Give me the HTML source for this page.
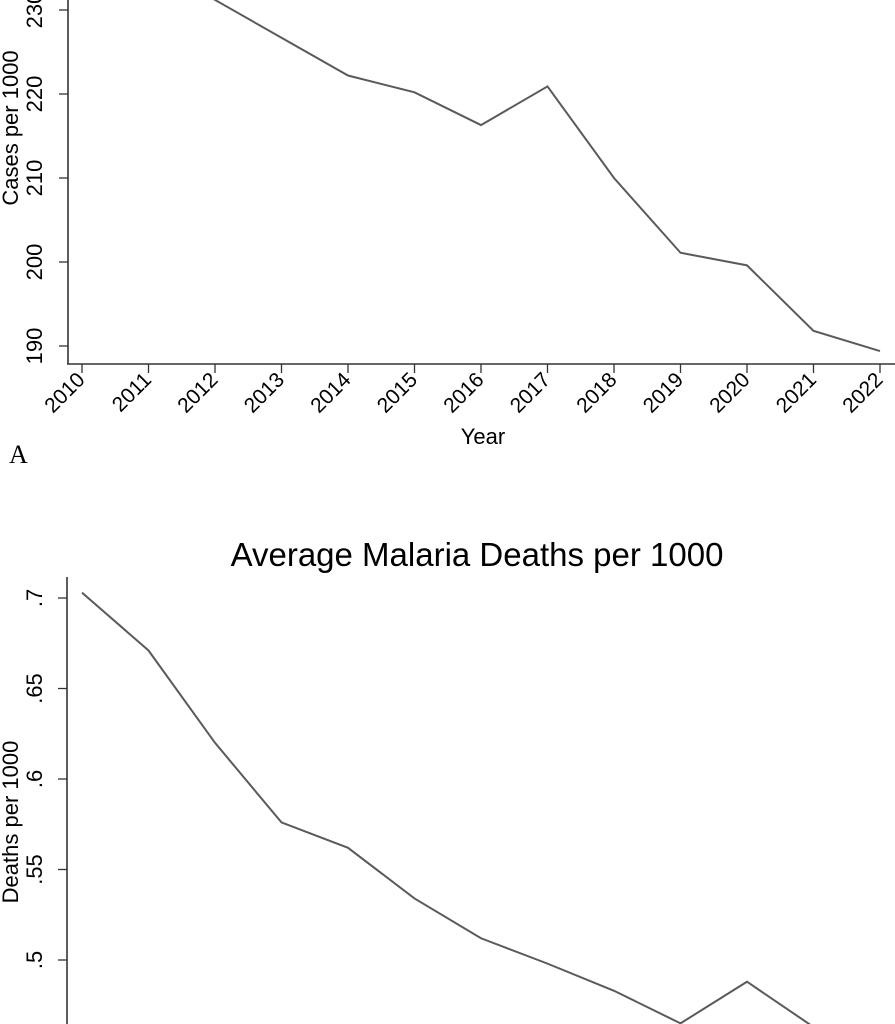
<!DOCTYPE html>
<html><head><meta charset="utf-8"><style>
html,body{margin:0;padding:0;background:#fff;}
svg{display:block;font-family:"Liberation Sans",Arial,sans-serif;}
</style></head><body>
<svg id="c" width="895" height="1024" viewBox="0 0 895 1024">
</svg>
<script>
const years=[2010,2011,2012,2013,2014,2015,2016,2017,2018,2019,2020,2021,2022];
const casesVals=[240,235.5,231.2,226.7,222.2,220.2,216.3,220.9,210,201.1,199.6,191.8,189.4];
const casesTicks=[190,200,210,220,230];
const deathsVals=[0.703,0.671,0.620,0.576,0.562,0.534,0.512,0.498,0.483,0.465,0.488,0.463,0.44];
const deathsTicks=[0.5,0.55,0.6,0.65,0.7];
const deathsTickLabels=[".5",".55",".6",".65",".7"];

const svg=document.getElementById('c');
const NS='http://www.w3.org/2000/svg';
function mk(t,a,p){const e=document.createElementNS(NS,t);for(const k in a)e.setAttribute(k,a[k]);(p||svg).appendChild(e);return e;}
const xS=y=>82+(y-2010)*(880-82)/12;

// Chart A
const yA=v=>346-(v-190)*8.4;
const gA=mk('g',{});


mk('line',{x1:68,y1:0,x2:68,y2:364,stroke:'#333','stroke-width':1.6},gA);
mk('line',{x1:67,y1:364,x2:895,y2:364,stroke:'#333','stroke-width':1.6},gA);
casesTicks.forEach(v=>{
  const y=yA(v);
  mk('line',{x1:59,y1:y,x2:68,y2:y,stroke:'#333','stroke-width':1.3},gA);
  const t=mk('text',{x:0,y:0,'font-size':22,'text-anchor':'middle',transform:`translate(42,${y}) rotate(-90)`},gA);
  
  
  t.textContent=v;
});
years.forEach(yr=>{
  const x=xS(yr);
  mk('line',{x1:x,y1:364,x2:x,y2:373,stroke:'#333','stroke-width':1.3},gA);
  const t=mk('text',{x:0,y:0,'font-size':21,'text-anchor':'end',transform:`translate(${x+4},${381}) rotate(-45)`},gA);
  
  
  t.textContent=yr;
});
const pA=mk('polyline',{fill:'none',stroke:'#5a5a5a','stroke-width':2,points:years.map((yr,i)=>xS(yr)+','+yA(casesVals[i])).join(' ')},gA);


const ylA=mk('text',{x:0,y:0,'font-size':22,'text-anchor':'middle',transform:'translate(18,128) rotate(-90)'},gA);


ylA.textContent='Cases per 1000';
const xl=mk('text',{x:483,y:444,'font-size':22,'text-anchor':'middle'},gA);


xl.textContent='Year';
const pl=mk('text',{x:9,y:463,'font-size':26,'font-family':'Liberation Serif, serif'},gA);


pl.textContent='A';

// Chart B
const yB=v=>598-(v-0.7)*1810;
const gB=mk('g',{});


const ti=mk('text',{x:477,y:566,'font-size':33,'text-anchor':'middle'},gB);


ti.textContent='Average Malaria Deaths per 1000';
mk('line',{x1:67,y1:577,x2:67,y2:1024,stroke:'#333','stroke-width':1.6},gB);
deathsTicks.forEach((v,i)=>{
  const y=yB(v);
  mk('line',{x1:58,y1:y,x2:67,y2:y,stroke:'#333','stroke-width':1.3},gB);
  const t=mk('text',{x:0,y:0,'font-size':22,'text-anchor':'middle',transform:`translate(42,${y}) rotate(-90)`},gB);
  
  
  t.textContent=deathsTickLabels[i];
});
const pB=mk('polyline',{fill:'none',stroke:'#5a5a5a','stroke-width':2,points:years.map((yr,i)=>xS(yr)+','+yB(deathsVals[i])).join(' ')},gB);


const ylB=mk('text',{x:0,y:0,'font-size':22,'text-anchor':'middle',transform:'translate(18,822) rotate(-90)'},gB);


ylB.textContent='Deaths per 1000';
</script>
</body></html>
